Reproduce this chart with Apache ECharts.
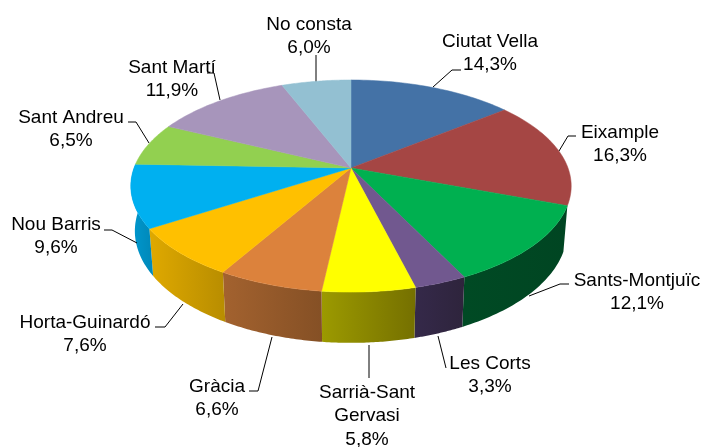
<!DOCTYPE html>
<html>
<head>
<meta charset="utf-8">
<style>
  html, body { margin: 0; padding: 0; background: #fff; }
  #chart { width: 704px; height: 447px; }
</style>
</head>
<body>
<div id="chart"></div>
<script src="https://cdn.jsdelivr.net/npm/echarts@6/dist/echarts.min.js"></script>
<script>
const categories = ["Ciutat Vella", "Eixample", "Sants-Montjuïc", "Les Corts", "Sarrià-Sant\nGervasi", "Gràcia",
  "Horta-Guinardó", "Nou Barris", "Sant Andreu", "Sant Martí", "No consta"];
const values = [14.3, 16.3, 12.1, 3.3, 5.8, 6.6, 7.6, 9.6, 6.5, 11.9, 6.0];

const topColors = ["#4472a6", "#a54644", "#00b050", "#71588f", "#ffff00", "#dc823c", "#ffc000", "#00b0f0", "#92d050", "#a795bb", "#93c0d2"];
// only the slices facing the viewer show a wall
const wallColors = [
  null, null, ["#004a24", "#004522"], ["#35294a", "#2e243c"],
  ["#9c9a00", "#757000"], ["#a3622f", "#855025"], ["#dfa900", "#b88d00"], ["#0098cf", "#0088b8"],
  null, null, null
];

// label centres and leader lines, in page pixels
const labelX = [490, 620, 637, 490, 367, 217, 85, 56, 71, 172, 309];
const labelY = [40, 131, 279, 362, 391, 385, 321, 223, 116, 66, 23];
const leaders = [
  [[433, 87], [452, 70], [461, 70]],
  [[559, 151], [568, 136], [576, 136]],
  [[529, 296], [560, 284], [569, 284]],
  [[438, 336], [446, 368]],
  [[369, 345], [369, 378]],
  [[272, 337], [258, 391], [249, 391]],
  [[183, 304], [165, 327], [155, 327]],
  [[137, 243], [112, 230], [104, 230]],
  [[149, 143], [136, 122], [128, 122]],
  [[220, 100], [214, 73], [207, 73]],
  [[316, 82], [316, 55]]
];

// perspective of the tilted disc
const cx = 351;
const persp = 0.17;
const topFace = { cy: 168, a: 217, b: 103 };
const bottomFace = { cy: 212, a: 213, b: 108.6 };

function project(face, angle) {
  const x = Math.sin(angle);
  const y = Math.cos(angle);
  const d = 1 + persp * y;
  return [cx + face.a * x / d, face.cy - face.b * y / d];
}

const total = values.reduce((s, v) => s + v, 0);

function sliceAngles(i) {
  let sum = 0;
  for (let k = 0; k < i; k++) sum += values[k];
  return [sum / total * Math.PI * 2, (sum + values[i]) / total * Math.PI * 2];
}

function arc(face, from, to) {
  const pts = [];
  const steps = 40;
  for (let s = 0; s <= steps; s++) {
    pts.push(project(face, from + (to - from) * s / steps));
  }
  return pts;
}

function renderWall(params, api) {
  const i = api.value(0);
  if (!wallColors[i]) return null;
  const [from, to] = sliceAngles(i);
  const pts = arc(topFace, from, to).concat(arc(bottomFace, from, to).reverse());
  const fill = {
    type: "linear", x: 0, y: 0, x2: 1, y2: 0,
    colorStops: [{ offset: 0, color: wallColors[i][0] }, { offset: 1, color: wallColors[i][1] }]
  };
  return { type: "polygon", shape: { points: pts }, style: { fill: fill } };
}

function renderTop(params, api) {
  const i = api.value(0);
  const [from, to] = sliceAngles(i);
  const pts = [[cx, topFace.cy]].concat(arc(topFace, from, to));
  return {
    type: "polygon",
    shape: { points: pts },
    style: { fill: topColors[i], stroke: topColors[i], lineWidth: 0.5 }
  };
}

function renderLabel(params, api) {
  const i = api.value(0);
  const text = categories[i] + "\n" + values[i].toFixed(1).replace(".", ",") + "%";
  return {
    type: "group",
    children: [
      {
        type: "polyline",
        shape: { points: leaders[i] },
        style: { stroke: "#000", lineWidth: 1, fill: null }
      },
      {
        type: "text",
        x: labelX[i],
        y: labelY[i] - 10,
        style: {
          text: text,
          fill: "#000",
          font: "19px 'Liberation Sans'",
          lineHeight: 23.5,
          align: "center",
          verticalAlign: "top"
        }
      }
    ]
  };
}

const rows = values.map((v, i) => [i, v]);
const chart = echarts.init(document.getElementById("chart"));
chart.setOption({
  animation: false,
  backgroundColor: "#fff",
  series: [
    { type: "custom", coordinateSystem: "none", data: rows, renderItem: renderWall, z: 1, silent: true },
    { type: "custom", coordinateSystem: "none", data: rows, renderItem: renderLabel, z: 2, silent: true },
    { type: "custom", coordinateSystem: "none", data: rows, renderItem: renderTop, z: 3, silent: true }
  ]
});
</script>
</body>
</html>
